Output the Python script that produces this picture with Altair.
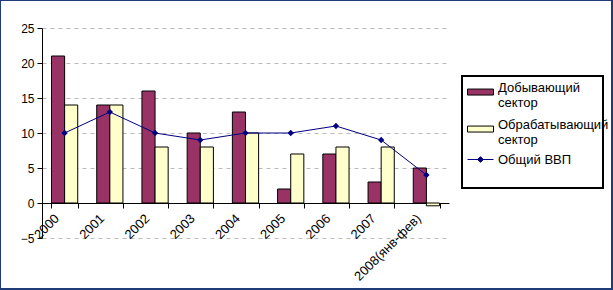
import altair as alt
import pandas as pd

years = ["2000", "2001", "2002", "2003", "2004", "2005", "2006", "2007", "2008(янв-фев)"]
mining = [21, 14, 16, 10, 13, 2, 7, 3, 5]
manufacturing = [14, 14, 8, 8, 10, 7, 8, 8, -0.4]
gdp = [10, 13, 10, 9, 10, 10, 11, 9, 4]

s_min = "Добывающий сектор"
s_man = "Обрабатывающий сектор"
s_gdp = "Общий ВВП"

bars_df = pd.DataFrame(
    [{"year": y, "series": s_min, "value": v} for y, v in zip(years, mining)]
    + [{"year": y, "series": s_man, "value": v} for y, v in zip(years, manufacturing)]
)
line_df = pd.DataFrame({"year": years, "value": gdp, "s": s_gdp})

FONT = "Liberation Sans"

x_axis = alt.Axis(title=None, offset=-35, domainColor="black", tickColor="black",
                  tickSize=5, tickBand="extent", labelAngle=-45, labelAlign="right",
                  labelBaseline="middle", labelPadding=8, labelOffset=-8,
                  labelFont=FONT, labelFontSize=13, labelColor="black", grid=False,
                  labelLimit=200, labelOverlap=False)
y_axis = alt.Axis(title=None, values=[-5, 0, 5, 10, 15, 20, 25], grid=True,
                  gridDash=[4, 4], gridColor="#BBBBBB", domainColor="black",
                  tickColor="black", tickSize=5, labelPadding=3, labelFont=FONT,
                  labelFontSize=12, labelColor="black", labelOverlap=False,
                  labelFlush=False)
x_scale = alt.Scale(paddingInner=0.42, paddingOuter=0.21)
y_scale = alt.Scale(domain=[-5, 25], nice=False, zero=False)


def xe():
    return alt.X("year:N", sort=years, scale=x_scale, axis=x_axis)


def ye():
    return alt.Y("value:Q", scale=y_scale, axis=y_axis)


bars = alt.Chart(bars_df).mark_bar(stroke="black", strokeWidth=1).encode(
    x=xe(),
    y=ye(),
    xOffset=alt.XOffset("series:N", sort=[s_min, s_man]),
    fill=alt.Fill("series:N", sort=[s_min, s_man],
                  scale=alt.Scale(domain=[s_min, s_man], range=["#993366", "#FFFFCC"]),
                  legend=alt.Legend(title=None, orient="none", legendX=425, legendY=46,
                                    symbolType="M-1,0.12H1V0.58H-1Z", symbolSize=676,
                                    symbolStrokeColor="black", symbolStrokeWidth=1,
                                    labelFont=FONT, labelFontSize=13, labelColor="black",
                                    labelExpr="split(datum.label, ' ')", labelLimit=200,
                                    rowPadding=1, labelOffset=4)),
)

line = alt.Chart(line_df).mark_line(strokeWidth=1).encode(
    x=xe(),
    y=ye(),
    stroke=alt.Stroke("s:N", scale=alt.Scale(domain=[s_gdp], range=["#000080"]),
                      legend=alt.Legend(title=None, orient="none", legendX=425, legendY=118,
                                        symbolType="M-1,0H1M-0.22,0L0,-0.22L0.22,0L0,0.22Z",
                                        symbolSize=676, symbolStrokeWidth=1,
                                        symbolFillColor="#000080",
                                        labelFont=FONT, labelFontSize=13, labelColor="black",
                                        labelOffset=4, labelLimit=200)),
)

points = alt.Chart(line_df).mark_point(shape="diamond", filled=True, size=40,
                                       color="#000080", opacity=1).encode(
    x=xe(),
    y=ye(),
)

legend_box = alt.Chart(alt.Data(values=[{}])).mark_rect(
    fillOpacity=0, stroke="black", strokeWidth=2, clip=False
).encode(x=alt.value(420), x2=alt.value(561), y=alt.value(48), y2=alt.value(160))

border = alt.Chart(alt.Data(values=[{}])).mark_rect(
    fillOpacity=0, stroke="#203C78", strokeWidth=2, clip=False
).encode(x=alt.value(-42), x2=alt.value(570), y=alt.value(-28), y2=alt.value(261))

chart = alt.layer(bars, line, points, legend_box, border).properties(
    width=407, height=210,
    padding={"left": 42, "top": 28, "right": 164, "bottom": 52},
    autosize="none", background="white",
).configure_view(stroke=None).configure_axis(labelOverlap=False)

chart.save("out.html", embed_options={"renderer": "svg", "actions": False})
